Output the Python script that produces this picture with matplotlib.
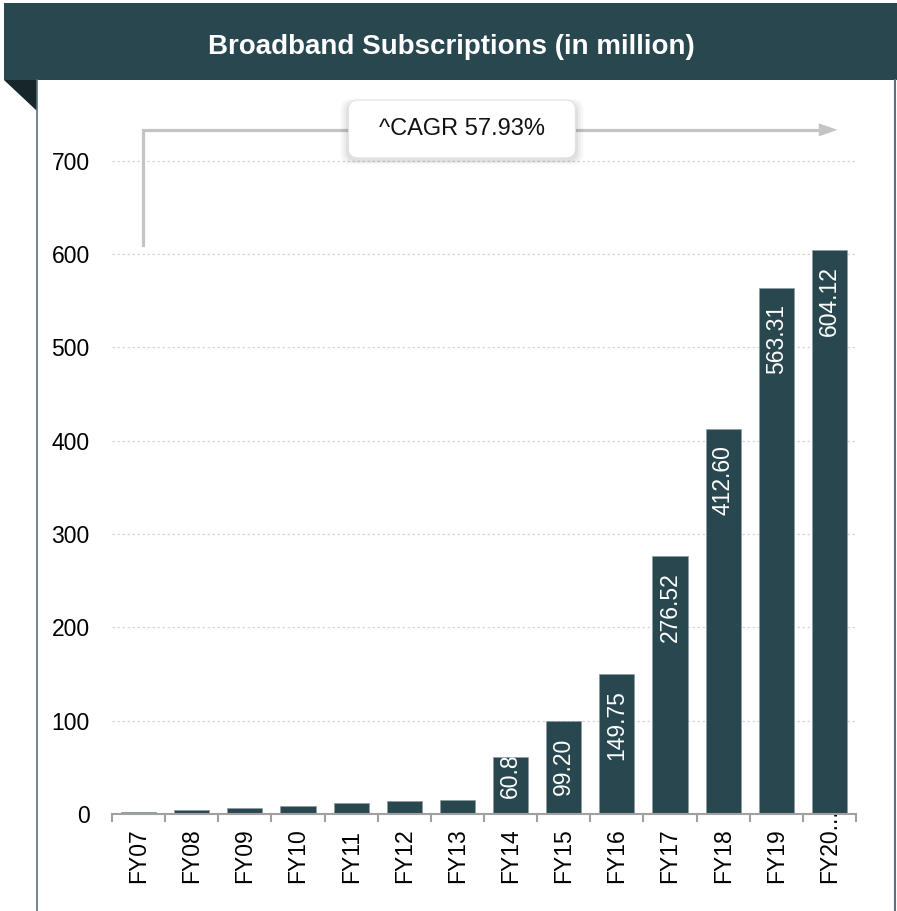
import matplotlib
matplotlib.use("Agg")
import matplotlib.pyplot as plt
from matplotlib.patches import Rectangle, Polygon, FancyBboxPatch
from matplotlib.lines import Line2D

plt.rcParams['font.family'] = ['Liberation Sans', 'DejaVu Sans']

# Broadband subscriptions in India, millions
years = ['FY07', 'FY08', 'FY09', 'FY10', 'FY11', 'FY12', 'FY13',
         'FY14', 'FY15', 'FY16', 'FY17', 'FY18', 'FY19', 'FY20...']
subs = [2.34, 3.87, 6.22, 8.77, 11.87, 13.79, 15.05,
        60.87, 99.20, 149.75, 276.52, 412.60, 563.31, 604.12]
labelled = [False] * 7 + [True] * 7
cagr_text = '^CAGR 57.93%'
yticks = [0, 100, 200, 300, 400, 500, 600, 700]

W, H = 897, 911
DARK = '#29474f'
FOLD = '#17262a'
BORDER = '#5d717a'
GREY = '#c4c4c4'
FS = 16.5

fig = plt.figure(figsize=(W / 100, H / 100), dpi=100)
fig.patch.set_facecolor('white')


def fx(x):
    return x / W


def fy(y):
    return 1 - y / H


# header band, folded corner and side borders
fig.add_artist(Rectangle((fx(4), fy(80)), fx(897) - fx(4), fy(3) - fy(80),
                         transform=fig.transFigure, facecolor=DARK,
                         edgecolor='none', zorder=0))
fig.add_artist(Polygon([(fx(4), fy(80)), (fx(37), fy(80)), (fx(37), fy(111))],
                       closed=True, transform=fig.transFigure,
                       facecolor=FOLD, edgecolor='none', zorder=0))
fig.add_artist(Line2D([fx(37), fx(37)], [fy(80), fy(911)],
                      transform=fig.transFigure, color=BORDER, lw=1.2))
fig.add_artist(Line2D([fx(894.5), fx(894.5)], [fy(80), fy(911)],
                      transform=fig.transFigure, color=BORDER, lw=1.5))
fig.text(fx(451), fy(47), 'Broadband Subscriptions (in million)',
         color='white', fontsize=20, fontweight='bold',
         ha='center', va='center')

ax = fig.add_axes([fx(112), fy(814), fx(856) - fx(112), fy(114) - fy(814)])
ax.set_facecolor('none')
ax.set_xlim(-0.5, len(years) - 0.5)
ax.set_ylim(0, 750)

x = list(range(len(years)))
bars = ax.bar(x, subs, width=0.66, color=DARK, edgecolor='#8c9ca1',
              linewidth=0.5, zorder=3)

# grid and axes styling
ax.set_yticks(yticks)
ax.set_yticklabels([str(t) for t in yticks], fontsize=FS)
ax.tick_params(axis='y', length=0, pad=16)
for t in yticks[1:]:
    ax.axhline(t, color='#d6d6d6', lw=0.9, ls=(0, (2, 2)), zorder=1)
for s in ['top', 'right', 'left']:
    ax.spines[s].set_visible(False)
ax.spines['bottom'].set_color('#a0a0a0')
ax.spines['bottom'].set_linewidth(1.5)
ax.spines['bottom'].set_zorder(4)

ax.set_xticks([i - 0.5 for i in range(len(years) + 1)])
ax.set_xticklabels([])
ax.tick_params(axis='x', length=6, width=1.5, color='#a0a0a0', direction='out')

# category labels, bottom-aligned so longer ones reach up towards the axis
for i, name in enumerate(years):
    ax.annotate(name, xy=(i, 0), xycoords=('data', 'axes fraction'),
                xytext=(0, -69), textcoords='offset pixels',
                rotation=90, ha='center', va='bottom', fontsize=FS,
                annotation_clip=False)

# value labels inside the bars, clipped to the bar
fig.canvas.draw()
renderer = fig.canvas.get_renderer()
pad = 16
for i, (v, b) in enumerate(zip(subs, bars)):
    if not labelled[i]:
        continue
    txt = ax.annotate('%.2f' % v, xy=(i, v), xytext=(0, -pad),
                      textcoords='offset pixels', rotation=90,
                      ha='center', va='top', color='white', fontsize=FS,
                      zorder=5)
    h = txt.get_window_extent(renderer).height
    top_px = ax.transData.transform((i, v))[1]
    base_px = ax.transData.transform((i, 0))[1]
    if top_px - pad - h < base_px + pad:
        txt.xy = (i, 0)
        txt.set_position((0, pad))
        txt.set_va('bottom')
    txt.set_clip_path(b)

# CAGR bracket arrow
y_line = 733
ax.plot([0.09, 0.09, 12.85], [610, y_line, y_line], color=GREY, lw=2.3,
        solid_joinstyle='miter', clip_on=False, zorder=2)
ax.add_patch(Polygon([(12.8, y_line + 7), (12.8, y_line - 7), (13.15, y_line)],
                     closed=True, facecolor=GREY, edgecolor='none',
                     clip_on=False, zorder=2))

bx0, bx1, by0, by1 = 3.95, 8.22, 703, 765
for k, a in enumerate([0.05, 0.04, 0.03]):
    grow = 0.05 * (k + 1)
    ax.add_patch(FancyBboxPatch((bx0 - grow, by0 - grow * 25 - 3),
                                bx1 - bx0 + 2 * grow, by1 - by0 + 2 * grow * 25,
                                boxstyle='round,pad=0,rounding_size=0.2',
                                mutation_aspect=55, facecolor='black',
                                edgecolor='none', alpha=a, clip_on=False,
                                zorder=5))
ax.add_patch(FancyBboxPatch((bx0, by0), bx1 - bx0, by1 - by0,
                            boxstyle='round,pad=0,rounding_size=0.18',
                            mutation_aspect=55, facecolor='white',
                            edgecolor='#e2e2e2', lw=0.8, clip_on=False,
                            zorder=6))
ax.text((bx0 + bx1) / 2, (by0 + by1) / 2, cagr_text, ha='center', va='center',
        fontsize=17, color='#111111', zorder=7)

fig.savefig('out.png', dpi=100)
